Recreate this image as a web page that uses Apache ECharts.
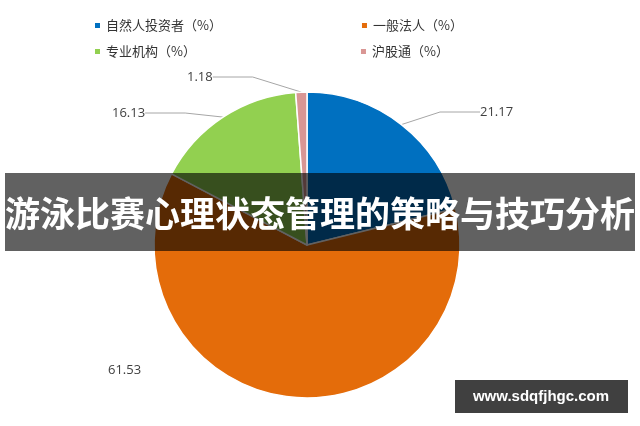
<!DOCTYPE html>
<html><head><meta charset="utf-8">
<script src="https://cdn.jsdelivr.net/npm/echarts@6/dist/echarts.min.js"></script>
<style>html,body{margin:0;padding:0;background:#fff}#c{width:640px;height:426px}</style>
</head><body><div id="c"></div>
<script>
const categories = ['自然人投资者（%）','一般法人（%）','专业机构（%）','沪股通（%）'];
const values = [21.17, 61.53, 16.13, 1.18];
const colors = ['#0070C0','#E46C0A','#92D050','#D99694'];
const title = '游泳比赛心理状态管理的策略与技巧分析';
const site = 'www.sdqfjhgc.com';
const labelPos = [[480,112],[108,370],[112,113],[187,77]];
const chart = echarts.init(document.getElementById('c'));
const lg = (names,top,gap)=>({
  left:88, top:top, itemWidth:7, itemHeight:7, itemGap:gap, icon:'rect',
  textStyle:{fontFamily:'Noto Sans CJK SC', fontSize:13, color:'#333', letterSpacing:2},
  data:names
});
chart.setOption({
  animation:false,
  color:colors,
  legend:[lg(categories.slice(0,2),14,138), lg(categories.slice(2),40,163)],
  series:[{
    type:'pie', center:[307,245], radius:[0,153], startAngle:90, clockwise:true,
    itemStyle:{borderColor:'#fff', borderWidth:1.5},
    label:{show:true, formatter:p=>p.value.toFixed(2), color:'#404040', fontSize:13, fontFamily:'Open Sans'},
    labelLine:{show:true, length:12, length2:40, lineStyle:{color:'#a6a6a6'}},
    labelLayout:p=>({x:labelPos[p.dataIndex][0], y:labelPos[p.dataIndex][1], align:'left', verticalAlign:'middle'}),
    data:categories.map((c,i)=>({name:c, value:values[i], labelLine:{show:i!==1}}))
  }],
  graphic:[
    {type:'rect', shape:{x:5,y:173,width:630,height:78}, style:{fill:'rgba(0,0,0,0.62)'}, z:100},
    {type:'text', x:320, y:214, style:{text:title, fill:'#fff', font:'bold 35px "Noto Sans CJK SC"', align:'center', verticalAlign:'middle'}, z:101},
    {type:'rect', shape:{x:455,y:380,width:173,height:33}, style:{fill:'rgba(0,0,0,0.75)'}, z:100},
    {type:'text', x:541, y:397, style:{text:site, fill:'#fff', font:'bold 15px "Liberation Sans"', align:'center', verticalAlign:'middle'}, z:101}
  ]
});
</script></body></html>
